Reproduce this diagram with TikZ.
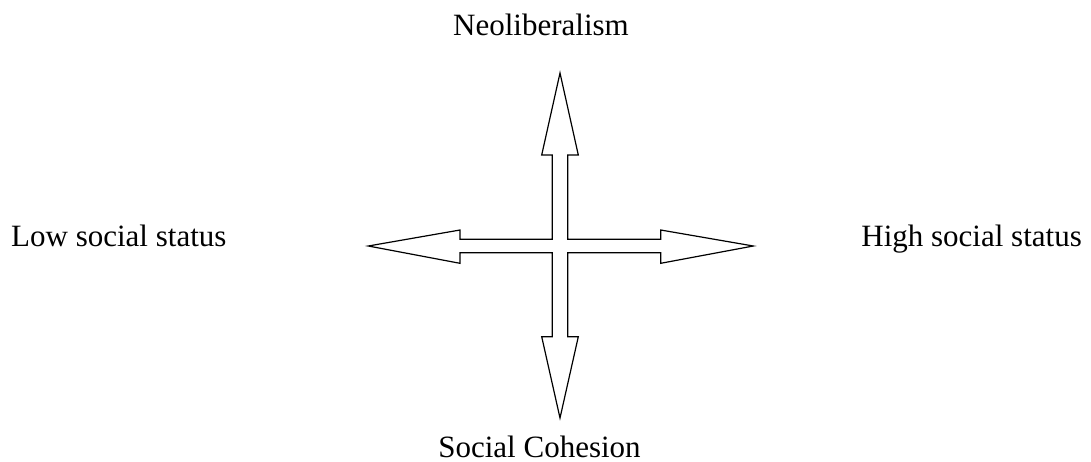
\documentclass[tikz,border=0pt]{standalone}
\usepackage{fontspec}
\setmainfont{Liberation Serif}
\usetikzlibrary{calc}
\tikzset{lab/.style={font=\fontsize{31}{36}\selectfont,inner sep=0pt}}

\begin{document}
\begin{tikzpicture}[x=1pt,y=-1pt]
				\useasboundingbox (0,0) rectangle (1091,461);
				\coordinate (c) at (560,246);
				% cross of four arrows, one outline
				\draw[line width=1.2pt,line join=miter] (560,73) -- (578.3,155) -- (567.7,155) -- (567.7,239.3)
				  -- (660.7,239.3) -- (660.7,230) -- (753.3,246) -- (660.7,263.3) -- (660.7,252.7)
				  -- (567.7,252.7) -- (567.7,336.7) -- (578.3,336.7) -- (560,418) -- (541.7,336.7)
				  -- (552.3,336.7) -- (552.3,252.7) -- (460,252.7) -- (460,263.3) -- (368.3,246)
				  -- (460,230) -- (460,239.3) -- (552.3,239.3) -- (552.3,155) -- (541.7,155) -- cycle;
				\node[lab,anchor=base] (neo) at (541,35) {Neoliberalism};
				\node[lab,anchor=base west] (low) at (11,246.7) {Low social status};
				\node[lab,anchor=base east] (high) at (1082,246.7) {High social status};
				\node[lab,anchor=base] (coh) at (539.5,457.7) {Social Cohesion};
\end{tikzpicture}
\end{document}
